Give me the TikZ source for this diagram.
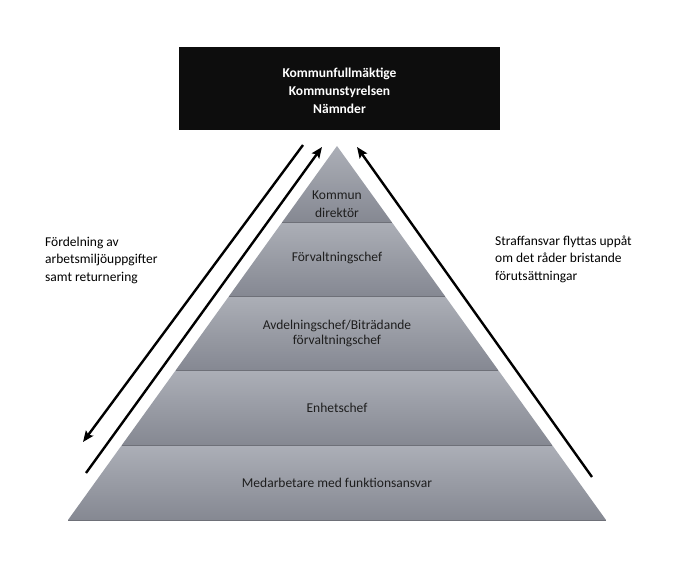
\documentclass[tikz,border=0pt]{standalone}
\usepackage{fontspec}
\setmainfont{Carlito}
\usetikzlibrary{arrows.meta}
\definecolor{bandtop}{RGB}{172,175,183}
\definecolor{bandbot}{RGB}{133,136,146}
\definecolor{sepline}{RGB}{110,112,120}
\definecolor{pyrtext}{RGB}{30,30,30}
\tikzset{
  band/.style={top color=bandtop, bottom color=bandbot},
  sep/.style={draw=sepline, line width=0.6pt},
  lvl/.style={text=pyrtext, font=\fontsize{13.5}{15}\selectfont, align=center, inner sep=0pt},
  side/.style={text=black, font=\fontsize{13.5}{17.5}\selectfont, align=left, anchor=west, inner sep=0pt},
  arr/.style={line width=2.4pt, -{Stealth[length=11pt,width=9pt,inset=2pt]}},
  plain/.style={line width=2.4pt}
}
\begin{document}
\begin{tikzpicture}[x=1pt,y=-1pt]
\useasboundingbox (0,0) rectangle (682,572);
% pyramid corners
\coordinate (apex) at (337,146);
\coordinate (l1) at (282.3,222); \coordinate (r1) at (391.7,222);
\coordinate (l2) at (229.1,296); \coordinate (r2) at (444.9,296);
\coordinate (l3) at (175.9,370); \coordinate (r3) at (498.1,370);
\coordinate (l4) at (121.9,445); \coordinate (r4) at (552.1,445);
\coordinate (l5) at (68,520);    \coordinate (r5) at (606,520);
% bands
\shade[band] (apex) -- (r1) -- (l1) -- cycle;
\shade[band] (l1) -- (r1) -- (r2) -- (l2) -- cycle;
\shade[band] (l2) -- (r2) -- (r3) -- (l3) -- cycle;
\shade[band] (l3) -- (r3) -- (r4) -- (l4) -- cycle;
\shade[band] (l4) -- (r4) -- (r5) -- (l5) -- cycle;
\draw[sep] (l1) -- (r1);
\draw[sep] (l2) -- (r2);
\draw[sep] (l3) -- (r3);
\draw[sep] (l4) -- (r4);
\draw[sep] (l5) -- (r5);
% level labels
\node[lvl, font=\fontsize{13.5}{18}\selectfont] (kd) at (337,204) {Kommun\\direktör};
\node[lvl] (fc) at (337,258) {Förvaltningschef};
\node[lvl] (ac) at (337,333) {Avdelningschef/Biträdande\\förvaltningschef};
\node[lvl] (ec) at (337,408) {Enhetschef};
\node[lvl] (mf) at (337,483) {Medarbetare med funktionsansvar};
% top box
\node[fill=black!95, minimum width=321pt, minimum height=83pt, inner sep=0pt] (box) at (339.5,88.5) {};
\node[text=white, font=\bfseries\fontsize{13.5}{18}\selectfont, align=center, inner sep=0pt] (boxt) at (339.5,91) {Kommunfullmäktige\\Kommunstyrelsen\\Nämnder};
% arrows
\coordinate (a1s) at (303,145); \coordinate (a1e) at (83,442);
\coordinate (a2s) at (86,473);  \coordinate (a2e) at (322,147);
\coordinate (a3s) at (592,477); \coordinate (a3e) at (357,147);
\draw[arr] (a1s) -- (a1e);
\draw[arr] (a2s) -- (a2e);
\draw[arr] (a3s) -- (a3e);
% side texts
\node[side] (lt) at (45,260) {Fördelning av\\arbetsmiljöuppgifter\\samt returnering};
\node[side] (rt) at (495,259) {Straffansvar flyttas uppåt\\om det råder bristande\\förutsättningar};
\end{tikzpicture}
\end{document}
